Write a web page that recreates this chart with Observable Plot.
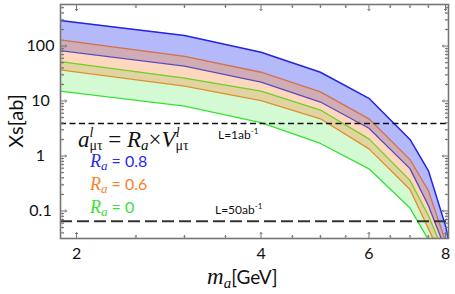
<!DOCTYPE html>
<html><head><meta charset="utf-8">
<script src="https://cdn.jsdelivr.net/npm/d3@7"></script>
<script src="https://cdn.jsdelivr.net/npm/@observablehq/plot@0.6"></script>
<style>body{margin:0;background:#fff} svg{display:block}</style>
</head><body><div id="chart"></div>
<script>
// m_a [GeV]
const masses   = [1.88, 3, 4, 5, 6, 7, 7.5, 8, 8.1];
// Xs [ab] band edges
const r08Upper = [291, 155, 77, 33.4, 11.2, 2.0, 0.545, 0.054, 0.028];
const r08Lower = [82.8, 43.3, 22, 9.6, 3.2, 0.59, 0.126, 0.02, 0.012];
const r06Upper = [130, 65, 33.4, 14.7, 4.75, 0.86, 0.236, 0.028, 0.02];
const r06Lower = [36.9, 18.7, 10.2, 4.75, 1.35, 0.246, 0.048, 0.01, 0.008];
const r0Upper  = [52.3, 26.2, 15.1, 6.86, 2.05, 0.36, 0.083, 0.015, 0.01];
const r0Lower  = [15.1, 8.1, 4.06, 1.69, 0.585, 0.113, 0.03, 0.005, 0.004];
const lumiLabels = ["L=1ab", "L=50ab"];
const lumiLimits = [3.9, 0.065];
const yTickValues = [0.1, 1, 10, 100];
const xTickValues = [2, 4, 6, 8];
const xMinorTicks = [2.5, 3, 3.5, 4.5, 5, 5.5, 6.5, 7, 7.5];
const legendLabels = ["0.8", "0.6", "0"];

const rows = masses.map((m, i) => ({
  m, b1: r08Lower[i], b2: r08Upper[i], o1: r06Lower[i], o2: r06Upper[i], g1: r0Lower[i], g2: r0Upper[i]
}));

const yDomain = [0.0316, 570];
const yMinor = d3.scaleLog().domain(yDomain).ticks().filter(d => !yTickValues.includes(d));
const frameColor = "#767676";
const sans = "Lato, 'Open Sans', sans-serif";
const serif = "'Liberation Serif', 'DejaVu Serif', serif";

const tickMarks = (data, dim, anchor, rotate, length) =>
  Plot.vector(data, {[dim]: d => d, frameAnchor: anchor, rotate, length, anchor: "start", stroke: frameColor, strokeWidth: 1});

const chart = Plot.plot({
  width: 455, height: 294,
  marginLeft: 60, marginRight: 7, marginTop: 4, marginBottom: 56,
  x: {type: "log", domain: [1.883, 8.09], axis: null},
  y: {type: "log", domain: yDomain, axis: null},
  style: {fontFamily: sans, background: "#fff"},
  marks: [
    Plot.areaY(rows, {x: "m", y1: "g1", y2: "g2", fill: "#d3fad3", clip: true}),
    Plot.areaY(rows, {x: "m", y1: "o1", y2: "o2", fill: "#fdd8bf", clip: true}),
    Plot.areaY(rows, {x: "m", y1: "b1", y2: "b2", fill: "#b4b9f9", clip: true}),
    Plot.areaY(rows, {x: "m", y1: "o1", y2: "g2", fill: "#e2d3a2", clip: true}),
    Plot.areaY(rows, {x: "m", y1: "b1", y2: "o2", fill: "#cfacb6", clip: true}),
    Plot.lineY(rows, {x: "m", y: "g1", stroke: "#35e035", strokeWidth: 1.3, clip: true}),
    Plot.lineY(rows, {x: "m", y: "o1", stroke: "#d99229", strokeWidth: 1.3, clip: true}),
    Plot.lineY(rows, {x: "m", y: "g2", stroke: "#6fd124", strokeWidth: 1.3, clip: true}),
    Plot.lineY(rows, {x: "m", y: "b1", stroke: "#5a4bbb", strokeWidth: 1.3, clip: true}),
    Plot.lineY(rows, {x: "m", y: "o2", stroke: "#d2714c", strokeWidth: 1.3, clip: true}),
    Plot.lineY(rows, {x: "m", y: "b2", stroke: "#2424e6", strokeWidth: 1.5, clip: true}),
    Plot.ruleY([lumiLimits[0]], {stroke: "#111", strokeWidth: 1.5, strokeDasharray: "6,3.5"}),
    Plot.ruleY([lumiLimits[1]], {stroke: "#333", strokeWidth: 2, strokeDasharray: "12,5"}),
    tickMarks(yTickValues, "y", "left", 90, 6),
    tickMarks(yMinor, "y", "left", 90, 3),
    tickMarks(yTickValues, "y", "right", -90, 6),
    tickMarks(yMinor, "y", "right", -90, 3),
    tickMarks(xTickValues, "x", "bottom", 0, 6),
    tickMarks(xMinorTicks, "x", "bottom", 0, 3),
    tickMarks(xTickValues, "x", "top", 180, 6),
    tickMarks(xMinorTicks, "x", "top", 180, 3),
    Plot.frame({stroke: frameColor, strokeWidth: 1.6}),
    Plot.text(yTickValues, {y: d => d, frameAnchor: "left", dx: -20, text: d => String(d), textAnchor: "middle", fontSize: 16, fill: "#111"}),
    Plot.text(xTickValues, {x: d => d, frameAnchor: "bottom", dy: 15, text: d => String(d), textAnchor: "middle", lineAnchor: "middle", fontSize: 16, fill: "#111"})
  ]
});
document.getElementById("chart").appendChild(chart);

const svg = d3.select(chart);
// parts: {t, f (font), s (size), i (italic), dx, dy}
function rich(x, y, parts, fill = "#111") {
  const txt = svg.append("text").attr("x", x).attr("y", y).attr("fill", fill)
    .attr("text-anchor", "start").style("white-space", "pre")
    .attr("font-family", serif).attr("font-size", 20);
  for (const p of parts) {
    const ts = txt.append("tspan").text(p.t)
      .attr("font-family", p.f || serif).attr("font-size", p.s || 20)
      .attr("font-style", p.i ? "italic" : "normal");
    if (p.dx) ts.attr("dx", p.dx);
    if (p.dy) ts.attr("dy", p.dy);
  }
  return txt;
}
// formula  a^l_{μτ} = R_a × V^l_{μτ}
rich(78, 146.5, [
  {t: "a", i: true, s: 23},
  {t: "l", i: true, s: 14, dy: -10},
  {t: "μτ", s: 14, dx: -4, dy: 13},
  {t: " = ", s: 23, dy: -3},
  {t: "R", i: true, s: 23},
  {t: "a", i: true, s: 15, dy: 3},
  {t: "×", s: 23, dy: -3},
  {t: "V", i: true, s: 23},
  {t: "l", i: true, s: 14, dy: -10},
  {t: "μτ", s: 14, dx: -4, dy: 13}
]);
const legendColors = ["#2a2af0", "#f5832f", "#36e236"];
legendLabels.forEach((lab, i) => {
  rich(90, 166.7 + i * 23.3, [
    {t: "R", i: true, s: 18},
    {t: "a", i: true, s: 13, dy: 3},
    {t: " = " + lab, f: sans, s: 16, dy: -3}
  ], legendColors[i]);
});
// luminosity labels
rich(218, 139, [{t: lumiLabels[0], f: sans, s: 12}, {t: "-1", f: sans, s: 8, dy: -5}]);
rich(215, 214, [{t: lumiLabels[1], f: sans, s: 12}, {t: "-1", f: sans, s: 8, dy: -5}]);
// axis titles
svg.append("text").attr("transform", "translate(23,121) rotate(-90)").attr("text-anchor", "middle")
  .attr("font-family", sans).attr("font-size", 20).attr("fill", "#111").text("Xs[ab]");
rich(207, 283.5, [
  {t: "m", i: true, s: 23},
  {t: "a", i: true, s: 15, dy: 4},
  {t: "[GeV]", f: sans, s: 19, dy: -4}
]);
</script>
</body></html>
